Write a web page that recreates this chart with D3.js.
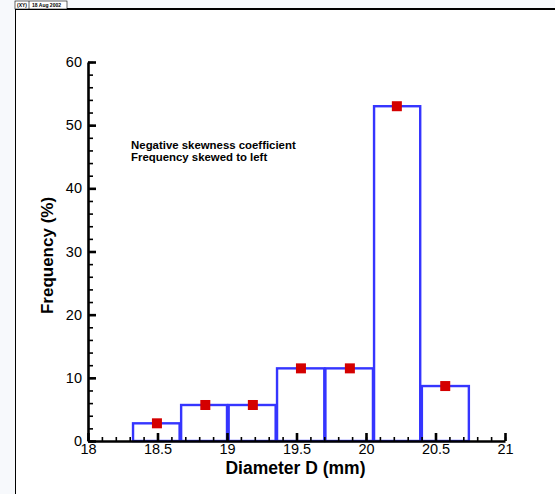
<!DOCTYPE html>
<html>
<head>
<meta charset="utf-8">
<script src="https://cdn.jsdelivr.net/npm/d3@7"></script>
<style>
  body { margin: 0; background: #fff; }
  text { font-family: Arial, "Liberation Sans", Helvetica, sans-serif; }
</style>
</head>
<body>
<div id="chart"></div>
<script>
// Histogram of diameters (bin edges)
var binLow  = [18.324, 18.670, 19.012, 19.360, 19.708, 20.058, 20.402];
var binHigh = [18.659, 19.000, 19.350, 19.700, 20.050, 20.390, 20.740];
var binMid  = [18.496, 18.844, 19.186, 19.532, 19.884, 20.222, 20.570];
var frequency = [2.8, 5.7, 5.7, 11.5, 11.5, 53.0, 8.7];

var xMajorTicks = [18, 18.5, 19, 19.5, 20, 20.5, 21];
var yMajorTicks = [0, 10, 20, 30, 40, 50, 60];

var W = 555, H = 494;
var margin = {left: 88, top: 62, right: 50, bottom: 53};
var plotW = 505 - margin.left,
    plotH = 441 - margin.top;

var svg = d3.select("#chart").append("svg")
    .attr("width", W)
    .attr("height", H);

// faint background outside the frame
svg.append("rect").attr("width", W).attr("height", H).attr("fill", "#f7f9fc");
svg.append("rect")
    .attr("x", 15).attr("y", 9)
    .attr("width", W - 15).attr("height", H - 9)
    .attr("fill", "#fff");
svg.append("line").attr("x1", 15).attr("x2", W).attr("y1", 9).attr("y2", 9)
    .attr("stroke", "#000").attr("stroke-width", 2);
svg.append("line").attr("x1", 15.5).attr("x2", 15.5).attr("y1", 9).attr("y2", H)
    .attr("stroke", "#000").attr("stroke-width", 1);

// header box
svg.append("rect").attr("x", 15).attr("y", 1).attr("width", 52).attr("height", 8)
    .attr("fill", "#fff").attr("stroke", "#000").attr("stroke-width", 0.6);
svg.append("line").attr("x1", 29).attr("x2", 29).attr("y1", 1).attr("y2", 9)
    .attr("stroke", "#000").attr("stroke-width", 0.6);
svg.append("text").attr("x", 17).attr("y", 7.3).attr("font-size", 5).attr("font-weight", "bold")
    .text("(XY)");
svg.append("text").attr("x", 32).attr("y", 7.3).attr("font-size", 5).attr("font-weight", "bold")
    .text("18 Aug 2002");

var g = svg.append("g")
    .attr("transform", "translate(" + margin.left + "," + margin.top + ")");

var x = d3.scaleLinear().domain([18, 21]).range([0, plotW]);
var y = d3.scaleLinear().domain([0, 60]).range([plotH, 0]);

// bars
g.selectAll(".bar")
    .data(frequency)
    .enter()
    .append("rect")
    .attr("class", "bar")
    .attr("x", (d, i) => x(binLow[i]))
    .attr("y", d => y(d))
    .attr("width", (d, i) => x(binHigh[i]) - x(binLow[i]))
    .attr("height", d => plotH - y(d))
    .attr("fill", "none")
    .attr("stroke", "#3535ff")
    .attr("stroke-width", 2.4);

// markers
var ms = 10;
g.selectAll(".marker")
    .data(frequency)
    .enter()
    .append("rect")
    .attr("class", "marker")
    .attr("x", (d, i) => x(binMid[i]) - ms / 2)
    .attr("y", d => y(d) - ms / 2)
    .attr("width", ms)
    .attr("height", ms)
    .attr("fill", "#d40000");

// minor ticks
g.append("g")
    .attr("transform", "translate(0," + plotH + ")")
    .call(d3.axisBottom(x).tickValues(d3.range(18, 21.001, 0.1)).tickSizeInner(-4).tickSizeOuter(0).tickFormat(""))
    .call(s => s.select(".domain").remove())
    .selectAll("line").attr("stroke-width", 1.6);

g.append("g")
    .call(d3.axisLeft(y).tickValues(d3.range(0, 60.001, 2)).tickSizeInner(-5).tickSizeOuter(0).tickFormat(""))
    .call(s => s.select(".domain").remove())
    .selectAll("line").attr("stroke-width", 1.6);

// major axes
var xAxisG = g.append("g")
    .attr("transform", "translate(0," + plotH + ")")
    .call(d3.axisBottom(x).tickValues(xMajorTicks).tickSizeInner(-8).tickSizeOuter(0).tickPadding(3)
        .tickFormat(d3.format("")));
xAxisG.select(".domain").attr("stroke-width", 2.6);
xAxisG.selectAll("line").attr("stroke-width", 2.6);
xAxisG.selectAll("text").attr("font-size", 14.5).attr("fill", "#000")
    .attr("font-family", "Arial, 'Liberation Sans', sans-serif");

var yAxisG = g.append("g")
    .call(d3.axisLeft(y).tickValues(yMajorTicks).tickSizeInner(-8).tickSizeOuter(0).tickPadding(6));
yAxisG.select(".domain").attr("stroke-width", 2.6);
yAxisG.selectAll("line").attr("stroke-width", 2.6);
yAxisG.selectAll("text").attr("font-size", 14.5).attr("fill", "#000")
    .attr("font-family", "Arial, 'Liberation Sans', sans-serif");

// annotation
g.append("text")
    .attr("x", x(18.31)).attr("y", y(46.3))
    .attr("font-size", 11.4).attr("font-weight", "bold")
    .text("Negative skewness coefficient");
g.append("text")
    .attr("x", x(18.31)).attr("y", y(44.25))
    .attr("font-size", 11.4).attr("font-weight", "bold")
    .text("Frequency skewed to left");

// axis titles
svg.append("text")
    .attr("x", margin.left + plotW / 2 - 1)
    .attr("y", 474)
    .attr("text-anchor", "middle")
    .attr("font-size", 17.5).attr("font-weight", "bold")
    .text("Diameter D (mm)");

svg.append("text")
    .attr("transform", "translate(53," + (margin.top + plotH / 2 + 4) + ") rotate(-90)")
    .attr("text-anchor", "middle")
    .attr("font-size", 17).attr("font-weight", "bold")
    .text("Frequency (%)");
</script>
</body>
</html>
